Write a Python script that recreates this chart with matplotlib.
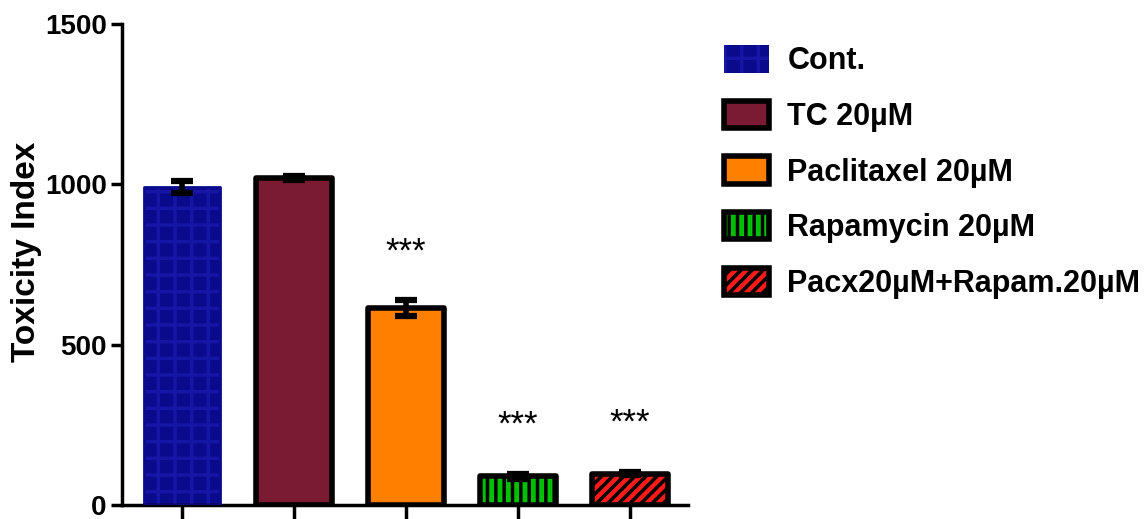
import matplotlib.pyplot as plt
from matplotlib.patches import Patch

groups = ["Cont.", "TC 20µM", "Paclitaxel 20µM", "Rapamycin 20µM", "Pacx20µM+Rapam.20µM"]
means = [991, 1020, 614, 90, 98]
errors = [19, 6, 24, 8, 6]
stars = ["", "", "***", "***", "***"]

fills = ["#0a0a8c", "#7b1a33", "#ff8000", "#00c000", "#ff1a1a"]
hatches = ["+", "", "", "||", "///"]

plt.rcParams["font.family"] = ["Liberation Sans", "DejaVu Sans"]
plt.rcParams["font.weight"] = "bold"
plt.rcParams["hatch.linewidth"] = 2.5

fig = plt.figure(figsize=(11.46, 5.19), dpi=100)
ax = fig.add_axes([122 / 1146, 14 / 519, 566 / 1146, 481 / 519])

x = list(range(len(groups)))
w = 0.68

# control bar: blue fill with a faint lighter blue pattern, no black outline
ax.bar(x[0], means[0], w, color=fills[0], edgecolor="#1515a6", hatch="+", linewidth=0, zorder=2)
ax.bar(x[0], means[0], w, fill=False, edgecolor=fills[0], linewidth=2, joinstyle="round", zorder=3)

for i in x[1:]:
    ax.bar(i, means[i], w, color=fills[i], edgecolor="black", hatch=hatches[i],
           linewidth=4, joinstyle="round", zorder=2)

ax.errorbar(x, means, yerr=errors, fmt="none", ecolor="black", elinewidth=4,
            capsize=8, capthick=4.5, zorder=4)

for i, s in enumerate(stars):
    if s:
        ax.text(i, means[i] + errors[i] + 150, s, ha="center", va="center",
                fontsize=25, fontweight="normal")

ax.set_xlim(-0.536, 4.52)
ax.set_ylim(0, 1500)
ax.set_yticks([0, 500, 1000, 1500])
ax.set_xticks(x)
ax.set_xticklabels([])
ax.tick_params(axis="y", length=8, width=2.5, labelsize=20, pad=3)
ax.tick_params(axis="x", length=14, width=2.5)
for lab in ax.get_yticklabels():
    lab.set_fontweight("bold")
for side in ["top", "right"]:
    ax.spines[side].set_visible(False)
for side in ["left", "bottom"]:
    ax.spines[side].set_linewidth(2.5)
ax.set_ylabel("Toxicity Index", fontsize=24, fontweight="bold")
ax.yaxis.set_label_coords(-0.142, 0.527)

handles = []
for i in x:
    if i == 0:
        handles.append(Patch(facecolor=fills[0], edgecolor="#1515a6", hatch="+", linewidth=0))
    else:
        handles.append(Patch(facecolor=fills[i], edgecolor="black", hatch=hatches[i], linewidth=4,
                             joinstyle="round"))
leg = fig.legend(handles, groups, loc="upper left", bbox_to_anchor=(712 / 1146, 1 - 33 / 519),
                 frameon=False, prop={"weight": "bold", "size": 22},
                 handlelength=1.47, handleheight=1.0, labelspacing=0.8,
                 handletextpad=0.6, borderaxespad=0)

fig.savefig("out.png", dpi=100)
